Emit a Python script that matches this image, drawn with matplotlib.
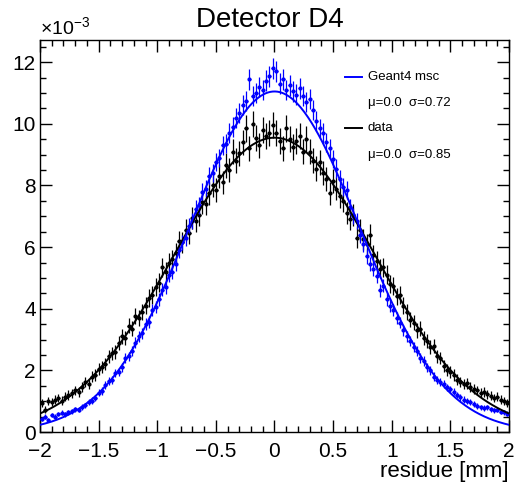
import numpy as np
import matplotlib
matplotlib.use('Agg')
import matplotlib.pyplot as plt

plt.rcParams['font.family'] = ['Liberation Sans', 'DejaVu Sans']
plt.rcParams['mathtext.fontset'] = 'custom'
plt.rcParams['mathtext.rm'] = 'Liberation Sans'
plt.rcParams['mathtext.it'] = 'Liberation Sans:italic'

# residue histogram, 140 bins in [-2, 2] mm, values in units of 1e-3
x_lo, x_hi, nbins = -2.0, 2.0, 140

geant4 = [
  0.42, 0.50, 0.38, 0.55, 0.50, 0.58, 0.62, 0.57, 0.64, 0.68,
  0.74, 0.72, 0.82, 0.86, 0.97, 1.02, 1.10, 1.28, 1.33, 1.52,
  1.66, 1.70, 1.92, 1.95, 2.10, 2.40, 2.45, 2.62, 2.90, 3.10,
  3.20, 3.50, 3.58, 3.95, 4.05, 4.30, 4.62, 4.70, 5.10, 5.20,
  5.45, 5.90, 6.15, 6.30, 6.70, 6.85, 7.25, 7.35, 7.80, 7.90,
  8.30, 8.40, 8.75, 8.90, 9.30, 9.35, 9.70, 9.90, 10.20, 10.35,
  10.60, 10.75, 11.45, 10.90, 11.00, 11.20, 11.10, 11.40, 11.55, 11.80,
  11.70, 11.30, 11.45, 11.10, 11.25, 11.05, 10.95, 11.15, 10.90, 10.70,
  10.80, 10.45, 10.10, 9.85, 9.70, 9.40, 9.20, 8.85, 8.55, 8.20,
  7.95, 7.85, 7.30, 7.00, 6.85, 6.40, 6.10, 5.70, 5.45, 5.30,
  5.05, 4.60, 4.75, 4.30, 4.10, 3.95, 3.70, 3.55, 3.30, 3.10,
  2.95, 2.75, 2.62, 2.40, 2.30, 2.10, 2.00, 1.80, 1.70, 1.62,
  1.55, 1.45, 1.38, 1.30, 1.20, 1.12, 1.05, 1.00, 0.96, 0.90,
  0.85, 0.80, 0.78, 0.80, 0.74, 0.70, 0.72, 0.66, 0.64, 0.60,
]

data = [
  0.95, 0.72, 1.00, 0.98, 1.05, 1.10, 1.02, 1.15, 1.20, 1.25,
  1.35, 1.30, 1.45, 1.62, 1.55, 1.80, 1.85, 2.05, 2.10, 2.20,
  2.45, 2.55, 2.60, 2.90, 3.10, 3.05, 3.45, 3.35, 3.75, 3.70,
  3.90, 4.10, 4.35, 4.45, 4.70, 4.85, 5.35, 5.20, 5.50, 5.60,
  5.80, 6.20, 6.15, 6.55, 6.45, 6.95, 6.85, 7.05, 7.45, 7.40,
  7.75, 8.00, 7.85, 8.30, 8.10, 8.65, 8.50, 9.10, 8.80, 9.05,
  9.40, 9.85, 9.20, 10.00, 9.55, 9.30, 9.80, 9.60, 9.70, 9.95,
  9.70, 9.45, 9.20, 9.85, 9.50, 9.25, 9.45, 9.60, 9.10, 9.50,
  9.10, 8.80, 8.55, 8.75, 8.40, 8.20, 7.75, 8.15, 7.90, 7.65,
  7.50, 7.10, 6.90, 7.05, 6.30, 6.55, 6.25, 6.10, 6.40, 5.75,
  5.55, 5.30, 5.35, 5.10, 4.80, 4.75, 4.40, 4.45, 4.10, 3.90,
  3.65, 3.55, 3.30, 3.35, 3.05, 2.95, 2.75, 2.80, 2.45, 2.40,
  2.15, 2.00, 1.95, 1.85, 1.70, 1.62, 1.55, 1.58, 1.45, 1.40,
  1.35, 1.28, 1.30, 1.22, 1.18, 1.10, 1.15, 1.05, 1.00, 0.95,
]

# gaussian fit results: (amplitude [1e-3], mu, sigma)
fit_geant4 = (11.05, 0.0, 0.72)
fit_data = (9.55, 0.0, 0.85)

# poisson scale per series (error at y is k*sqrt(y))
k_geant4 = 0.10
k_data = 0.135

edges = np.linspace(x_lo, x_hi, nbins + 1)
xc = 0.5 * (edges[1:] + edges[:-1])
hw = 0.5 * (edges[1] - edges[0])
yb = np.array(geant4)
yk = np.array(data)

def gaus(x, p):
  a, mu, s = p
  return a * np.exp(-0.5 * ((x - mu) / s) ** 2)

fig = plt.figure(figsize=(5.16, 4.88), dpi=100)
ax = fig.add_axes([40/516, 56/488, 469/516, 392/488])

blue = '#0000ff'
ax.errorbar(xc, yk, yerr=k_data*np.sqrt(yk), xerr=hw, fmt='o', ms=2, color='black',
            elinewidth=0.9, capsize=0, zorder=2)
ax.errorbar(xc, yb, yerr=k_geant4*np.sqrt(yb), xerr=hw, fmt='o', ms=2, color=blue,
            elinewidth=0.9, capsize=0, zorder=3)

xf = np.linspace(x_lo, x_hi, 400)
ax.plot(xf, gaus(xf, fit_data), color='black', lw=1.4, zorder=4)
ax.plot(xf, gaus(xf, fit_geant4), color=blue, lw=1.4, zorder=5)

ax.set_xlim(x_lo, x_hi)
ax.set_ylim(0, 12.72)
ax.set_xticks([-2, -1.5, -1, -0.5, 0, 0.5, 1, 1.5, 2])
ax.set_xticklabels(['\u22122', '\u22121.5', '\u22121', '\u22120.5', '0', '0.5', '1', '1.5', '2'])
ax.set_xticks(np.arange(-2, 2.01, 0.1), minor=True)
ax.set_yticks([0, 2, 4, 6, 8, 10, 12])
ax.set_yticks(np.arange(0, 12.7, 0.5), minor=True)
ax.tick_params(which='both', direction='in', top=True, right=True, labelsize=15)
ax.tick_params(which='major', length=8.5, width=1)
ax.tick_params(which='minor', length=4.3, width=1)
ax.tick_params(axis='x', pad=7)
ax.tick_params(axis='y', pad=3)
for sp in ax.spines.values():
  sp.set_linewidth(1)

ax.set_xlabel('residue [mm]', fontsize=16, loc='right', labelpad=0)
ax.text(0.0, 1.005, r'$\times10^{-3}$', transform=ax.transAxes, fontsize=14,
        ha='left', va='bottom')
fig.text(0.523, 0.958, 'Detector D4', fontsize=20, ha='center', va='center')

# legend
rows = [(0.906, 'Geant4 msc', blue), (0.839, '\u03bc=0.0  \u03c3=0.72', None),
        (0.776, 'data', 'black'), (0.707, '\u03bc=0.0  \u03c3=0.85', None)]
for yy, label, col in rows:
  if col is not None:
    ax.plot([0.650, 0.686], [yy, yy], color=col, lw=1.4, transform=ax.transAxes)
  ax.text(0.699, yy, label, transform=ax.transAxes, fontsize=9.5, va='center', ha='left')

fig.savefig('out.png', dpi=100)
